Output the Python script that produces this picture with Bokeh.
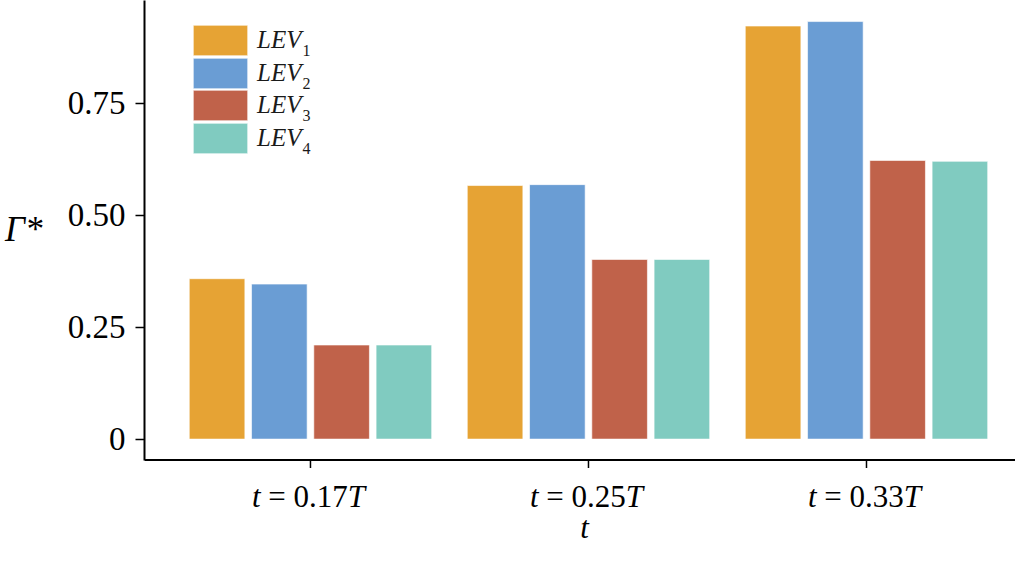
from bokeh.plotting import figure
from bokeh.models import (ColumnDataSource, Range1d, FixedTicker, CustomJSTickFormatter,
                          Legend, LegendItem, LinearAxis, Span)
from bokeh.core.properties import value
from bokeh.embed import file_html
from bokeh.resources import INLINE

# data
times = ["0.17", "0.25", "0.33"]
series = ["1", "2", "3", "4"]
lev1 = [0.358, 0.566, 0.922]
lev2 = [0.346, 0.568, 0.932]
lev3 = [0.210, 0.401, 0.622]
lev4 = [0.210, 0.401, 0.620]
colors = ["#E6A334", "#6A9DD4", "#C0624A", "#80CBC0"]
yticks = [0, 0.25, 0.5, 0.75]

SERIF = "Liberation Serif"
NB = "\u00a0"
W, H = 1015, 546
LEFT = 144
ZERO_PX = 438.6          # pixel row of y = 0
X0, X1 = -0.597, 2.536
xs = 278.0               # px per category
ys = 448.0               # px per unit of y
Y1 = ZERO_PX / ys
Y0 = -(H - ZERO_PX) / ys
YB = -(459.5 - ZERO_PX) / ys   # where the x axis line sits

def dx(px):
    return px / xs

def ypx(py):
    # pixel row -> data y
    return (ZERO_PX - py) / ys

p = figure(width=W, height=H, output_backend="svg", toolbar_location=None,
           x_range=Range1d(X0, X1), y_range=Range1d(Y0, Y1), x_axis_location=None,
           min_border_left=LEFT, min_border_right=0, min_border_top=0,
           min_border_bottom=0)
p.outline_line_color = None
p.grid.visible = False

# grouped bars
values = [lev1, lev2, lev3, lev4]
offsets = [-0.336, -0.112, 0.112, 0.336]
renderers = []
for j, vals in enumerate(values):
    src = ColumnDataSource(dict(x=[i + offsets[j] for i in range(len(times))], top=vals))
    r = p.vbar(x="x", top="top", bottom=0, width=0.2, source=src,
               fill_color=colors[j], line_color="white", line_alpha=0.6, line_width=1)
    renderers.append(r)

# y axis
yax = p.yaxis[0]
yax.bounds = (YB, Y1)
yax.ticker = FixedTicker(ticks=yticks)
yax.formatter = CustomJSTickFormatter(code="return tick == 0 ? '0' : tick.toFixed(2);")
yax.minor_tick_line_color = None
yax.major_tick_in = 0
yax.major_tick_out = 9
yax.major_tick_line_width = 1.5
yax.axis_line_width = 2
yax.major_label_standoff = 10
yax.major_label_text_font = SERIF
yax.major_label_text_font_size = "33px"
yax.major_label_text_color = "black"

# y title as an outer left axis with one label
gax = LinearAxis(ticker=FixedTicker(ticks=[ypx(229)]),
                 formatter=CustomJSTickFormatter(code="return 'Γ*';"),
                 axis_line_color=None, major_tick_line_color=None,
                 minor_tick_line_color=None, major_tick_in=0, major_tick_out=0,
                 major_label_standoff=22, major_label_text_font=SERIF,
                 major_label_text_font_size="35px", major_label_text_font_style="italic",
                 major_label_text_color="black")
p.add_layout(gax, "left")

# x axis drawn inside the frame (mixed italic tick labels)
p.add_layout(Span(location=YB, dimension="width", line_color="black", line_width=2))
tick_src = ColumnDataSource(dict(x=list(range(len(times))),
                                 y0=[YB] * len(times), y1=[ypx(467.5)] * len(times)))
p.segment(x0="x", y0="y0", x1="x", y1="y1", source=tick_src, line_color="black",
          line_width=1.5)

fs = 31
w_t, w_mid, w_T = 0.278 * fs, 2.814 * fs, 0.556 * fs
start = -(w_t + w_mid + w_T) / 2 - 2
lab_src = ColumnDataSource(dict(
    xi=[i + dx(start) for i in range(len(times))],
    xm=[i + dx(start + w_t) for i in range(len(times))],
    xT=[i + dx(start + w_t + w_mid) for i in range(len(times))],
    y=[ypx(496)] * len(times),
    t=["t"] * len(times),
    mid=[NB + "=" + NB + v for v in times],
    T=["T"] * len(times),
))
common = dict(y="y", source=lab_src, text_font=value(SERIF), text_font_size=value(f"{fs}px"),
              text_color="black", text_align="left", text_baseline="middle")
p.text(x="xi", text="t", text_font_style="italic", **common)
p.text(x="xm", text="mid", **common)
p.text(x="xT", text="T", text_font_style="italic", **common)

# x title
p.text(x=[1 + dx(-4)], y=[ypx(527)], text=["t"], text_font=value(SERIF),
       text_font_size=value("31px"), text_font_style="italic", text_color="black",
       text_align="center", text_baseline="middle")

# legend: one small legend per entry so the swatches sit tight
for k, r in enumerate(renderers):
    center = 40 + 32.5 * k
    lg = Legend(items=[LegendItem(label="LEV", renderers=[r])],
                location=(42, H - (center + 19)),
                glyph_width=68, glyph_height=38, padding=0, margin=0, spacing=0,
                label_standoff=3, label_text_font=SERIF, label_text_font_size="25px",
                label_text_font_style="italic", label_text_color="#1a1a1a",
                border_line_color=None, background_fill_alpha=0)
    p.add_layout(lg)

# subscripts of the legend labels
sub_src = ColumnDataSource(dict(
    x=[dx(302 - 310)] * len(series),
    y=[ypx(50 + 32.5 * k) for k in range(len(series))],
    text=series,
))
p.text(x="x", y="y", text="text", source=sub_src, text_font=value(SERIF),
       text_font_size=value("16px"), text_color="#1a1a1a", text_align="left",
       text_baseline="middle")

open("out.html", "w").write(file_html(p, INLINE))
